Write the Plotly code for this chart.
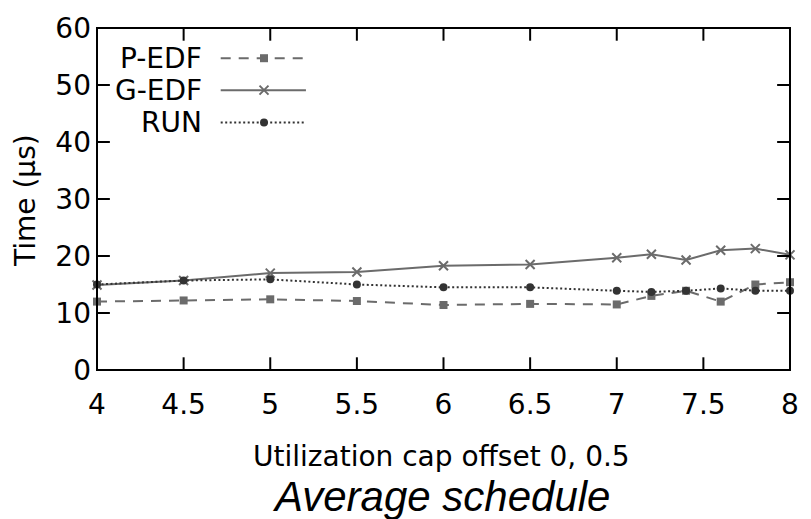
import plotly.graph_objects as go

# ---- data ----
x_vals = [4, 4.5, 5, 5.5, 6, 6.5, 7, 7.2, 7.4, 7.6, 7.8, 8]
p_edf = [12.0, 12.2, 12.4, 12.1, 11.4, 11.6, 11.5, 13.0, 13.9, 12.0, 15.0, 15.4]
g_edf = [14.9, 15.7, 17.0, 17.2, 18.3, 18.5, 19.7, 20.3, 19.3, 21.0, 21.3, 20.2]
run = [15.0, 15.7, 15.9, 15.0, 14.5, 14.5, 13.9, 13.7, 13.9, 14.3, 13.9, 13.9]
series_names = ["P-EDF", "G-EDF", "RUN"]
x_ticks = [4, 4.5, 5, 5.5, 6, 6.5, 7, 7.5, 8]
y_ticks = [0, 10, 20, 30, 40, 50, 60]

FONT = "DejaVu Sans"
FS = 28
W, H = 811, 519
M = dict(l=97, r=14, t=20, b=149)
PW, PH = W - M["l"] - M["r"], H - M["t"] - M["b"]
TICK = 13  # tick length in px (inside, mirrored, gnuplot-like)

styles = {
    "P-EDF": dict(line=dict(color="#6b6b6b", width=2, dash="10px,8px"),
                  marker=dict(symbol="square", size=8, color="#6b6b6b")),
    "G-EDF": dict(line=dict(color="#6b6b6b", width=2),
                  marker=dict(symbol="x-thin", size=9, color="#6b6b6b",
                              line=dict(width=2, color="#6b6b6b"))),
    "RUN": dict(line=dict(color="#333333", width=2, dash="2px,2.5px"),
                marker=dict(symbol="circle", size=8, color="#333333")),
}

fig = go.Figure()
for name, ys in zip(series_names, [p_edf, g_edf, run]):
    fig.add_trace(go.Scatter(x=x_vals, y=ys, mode="lines+markers", name=name,
                             showlegend=False, cliponaxis=False, **styles[name]))

# custom legend (key text left of its sample, as in the original), placed in the
# upper-left corner of the plot area (positions given in axis units)
leg_text_x = 4.62
leg_sample_x = [4.714, 5.206]
leg_marker_x = 4.964
leg_rows = [54.7, 49.1, 43.4]
for name, ry in zip(series_names, leg_rows):
    st = styles[name]
    fig.add_trace(go.Scatter(x=leg_sample_x, y=[ry, ry], mode="lines",
                             line=st["line"], showlegend=False, hoverinfo="skip"))
    fig.add_trace(go.Scatter(x=[leg_marker_x], y=[ry], mode="markers",
                             marker=st["marker"], showlegend=False, hoverinfo="skip"))
    fig.add_annotation(x=leg_text_x, y=ry, text=name,
                       showarrow=False, xanchor="right", yanchor="middle",
                       font=dict(family=FONT, size=FS, color="black"))

axis_common = dict(showline=False, ticks="", showgrid=False, zeroline=False,
                   tickfont=dict(family=FONT, size=FS, color="black"))

fig.update_layout(
    width=W, height=H, margin=M,
    paper_bgcolor="white", plot_bgcolor="white",
    xaxis=dict(range=[4, 8], tickmode="array", tickvals=x_ticks,
               ticklabelstandoff=15, **axis_common),
    yaxis=dict(range=[0, 60], tickmode="array", tickvals=y_ticks,
               ticklabelstandoff=5, **axis_common),
)

# frame and mirrored inside ticks
frame = dict(color="black", width=2)
fig.add_shape(type="rect", xref="paper", yref="paper", x0=0, x1=1, y0=0, y1=1,
              line=frame, layer="above")
tx = TICK / PH
for t in x_ticks[1:-1]:
    fig.add_shape(type="line", xref="x", yref="paper", x0=t, x1=t, y0=0, y1=tx,
                  line=frame, layer="above")
    fig.add_shape(type="line", xref="x", yref="paper", x0=t, x1=t, y0=1 - tx, y1=1,
                  line=frame, layer="above")
ty = TICK / PW
for t in y_ticks[1:-1]:
    fig.add_shape(type="line", xref="paper", yref="y", x0=0, x1=ty, y0=t, y1=t,
                  line=frame, layer="above")
    fig.add_shape(type="line", xref="paper", yref="y", x0=1 - ty, x1=1, y0=t, y1=t,
                  line=frame, layer="above")

fig.add_annotation(x=-0.103, y=0.496, xref="paper", yref="paper", text="Time (µs)",
                   textangle=-90, showarrow=False, xanchor="center", yanchor="middle",
                   font=dict(family=FONT, size=FS, color="black"))
fig.add_annotation(x=0.497, y=-0.252, xref="paper", yref="paper",
                   text="Utilization cap offset 0, 0.5", showarrow=False,
                   xanchor="center", yanchor="middle",
                   font=dict(family=FONT, size=FS, color="black"))
fig.add_annotation(x=0.497, y=-0.37, xref="paper", yref="paper",
                   text="<i>Average schedule</i>", showarrow=False,
                   xanchor="center", yanchor="middle",
                   font=dict(family="Liberation Sans", size=42, color="black"))

fig.write_html("out.html", config={"displayModeBar": False},
               post_script="document.body.style.margin='0';document.body.style.overflow='hidden';")
